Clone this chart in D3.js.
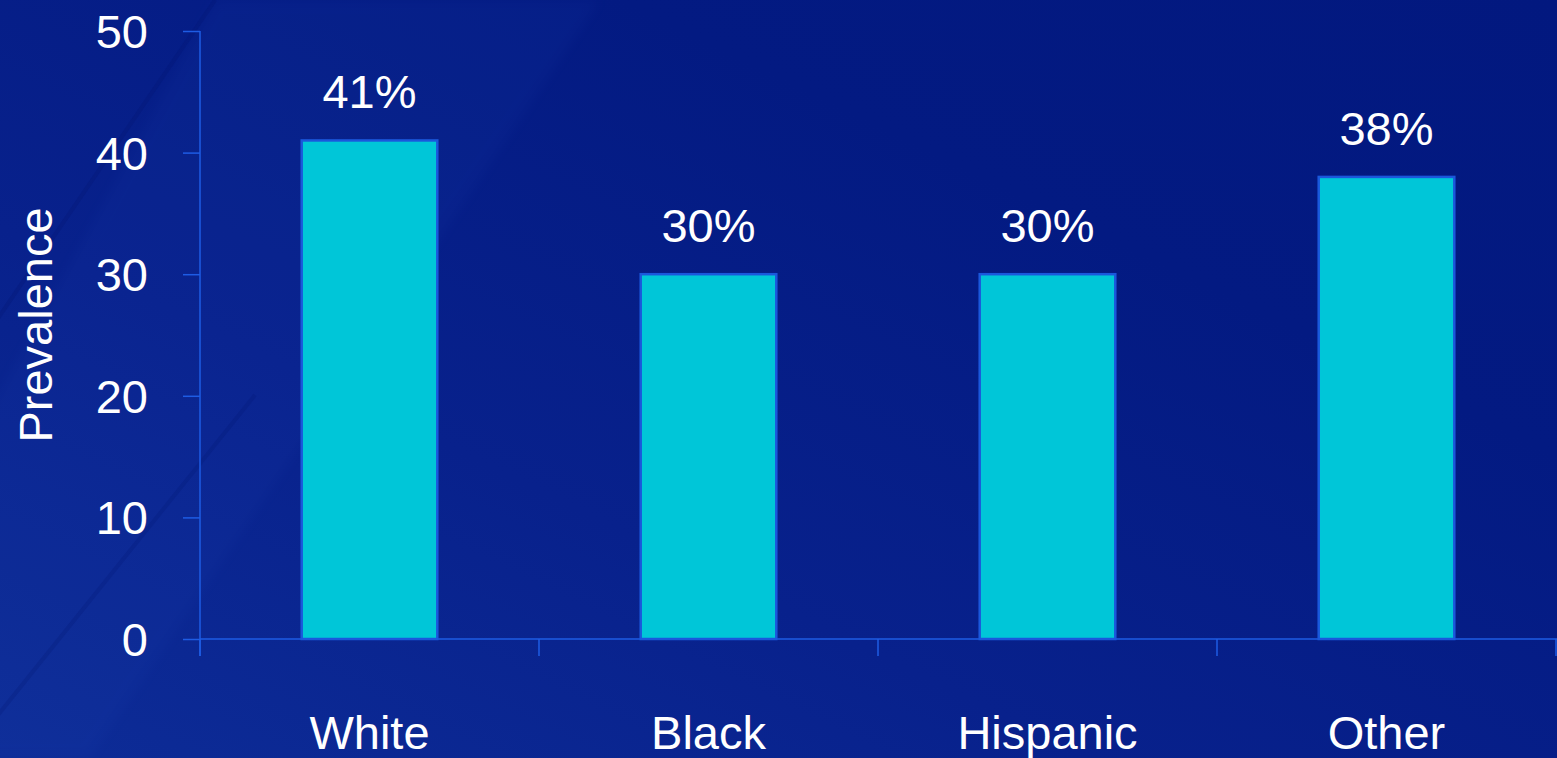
<!DOCTYPE html>
<html>
<head>
<meta charset="utf-8">
<script src="https://cdn.jsdelivr.net/npm/d3@7"></script>
<style>
  html, body { margin: 0; padding: 0; background: #041c85; }
  svg { display: block; }
  text { font-family: "Liberation Sans", Arial, sans-serif; fill: #ffffff; }
</style>
</head>
<body>
<svg id="chart" width="1557" height="758"></svg>
<script>
// Prevalence by race / ethnicity
const categories = ["White", "Black", "Hispanic", "Other"];
const prevalence = [41, 30, 30, 38];
const valueLabels = ["41%", "30%", "30%", "38%"];
const yTicks = [0, 10, 20, 30, 40, 50];
const yTitle = "Prevalence";

const W = 1557, H = 758;
const svg = d3.select("#chart");

// slide-style background: deep blue, a little lighter towards the lower left
const defs = svg.append("defs");
const bg = defs.append("linearGradient").attr("id", "bg")
  .attr("x1", "0").attr("y1", "1").attr("x2", "1").attr("y2", "0");
bg.append("stop").attr("offset", "0").attr("stop-color", "#0d2c97");
bg.append("stop").attr("offset", "0.35").attr("stop-color", "#08218c");
bg.append("stop").attr("offset", "0.7").attr("stop-color", "#031a82");
bg.append("stop").attr("offset", "1").attr("stop-color", "#02187f");
svg.append("rect").attr("width", W).attr("height", H).attr("fill", "url(#bg)");

defs.append("filter").attr("id", "soft")
  .append("feGaussianBlur").attr("stdDeviation", 6);
svg.append("path")
  .attr("d", "M215,0 L600,0 L90,758 L-200,758 Z")
  .attr("fill", "#2a55c8").attr("opacity", 0.07).attr("filter", "url(#soft)");
// faint darker diagonal streaks
[["M215,0 L-10,330", 0.25], ["M255,395 L-10,725", 0.2]]
  .forEach(([d, o]) => svg.append("path").attr("d", d)
    .attr("stroke", "#021470").attr("stroke-width", 4).attr("fill", "none")
    .attr("opacity", o));

// scales
const x = d3.scaleBand().domain(categories).range([200, 1556])
  .paddingInner(0.6).paddingOuter(0.3);
const y = d3.scaleLinear().domain([0, 50]).range([639, 31]);

const axisColor = "#1e5ce4";

// y axis
const yAxis = svg.append("g").attr("transform", "translate(200,0)")
  .call(d3.axisLeft(y).tickValues(yTicks).tickSize(17).tickPadding(35));
yAxis.select(".domain").attr("stroke", axisColor).attr("stroke-width", 1.5)
  .attr("d", `M0,${y(50)}V${y(0) + 17}`);
yAxis.selectAll(".tick line").attr("stroke", axisColor).attr("stroke-width", 1.5);
yAxis.selectAll(".tick text")
  .style("font-family", "'Liberation Sans', Arial, sans-serif")
  .attr("font-size", 47).attr("fill", "#ffffff").attr("dy", "0.35em");

// x axis baseline and boundary ticks
const step = x.step();
const bounds = d3.range(categories.length + 1).map(i => x.range()[0] + i * step);
svg.append("line").attr("x1", 200).attr("x2", W).attr("y1", y(0)).attr("y2", y(0))
  .attr("stroke", axisColor).attr("stroke-width", 1.5);
svg.selectAll(".xtick").data(bounds).join("line").attr("class", "xtick")
  .attr("x1", d => d).attr("x2", d => d).attr("y1", y(0)).attr("y2", y(0) + 17)
  .attr("stroke", axisColor).attr("stroke-width", 1.5);

// bars
svg.selectAll(".bar").data(categories).join("rect").attr("class", "bar")
  .attr("x", d => x(d)).attr("width", x.bandwidth())
  .attr("y", (d, i) => y(prevalence[i]))
  .attr("height", (d, i) => y(0) - y(prevalence[i]))
  .attr("fill", "#00c6d8").attr("stroke", "#1a58dc").attr("stroke-width", 2.5);

// value labels
svg.selectAll(".val").data(categories).join("text").attr("class", "val")
  .attr("x", d => x(d) + x.bandwidth() / 2)
  .attr("y", (d, i) => y(prevalence[i]) - 32)
  .attr("text-anchor", "middle").attr("font-size", 47)
  .text((d, i) => valueLabels[i]);

// category labels (sit low, near the bottom edge)
svg.selectAll(".cat").data(categories).join("text").attr("class", "cat")
  .attr("x", d => x(d) + x.bandwidth() / 2).attr("y", 749)
  .attr("text-anchor", "middle").attr("font-size", 47)
  .text(d => d);

// y title
svg.append("text").attr("transform", "translate(52,325) rotate(-90)")
  .attr("text-anchor", "middle").attr("font-size", 47).text(yTitle);
</script>
</body>
</html>
